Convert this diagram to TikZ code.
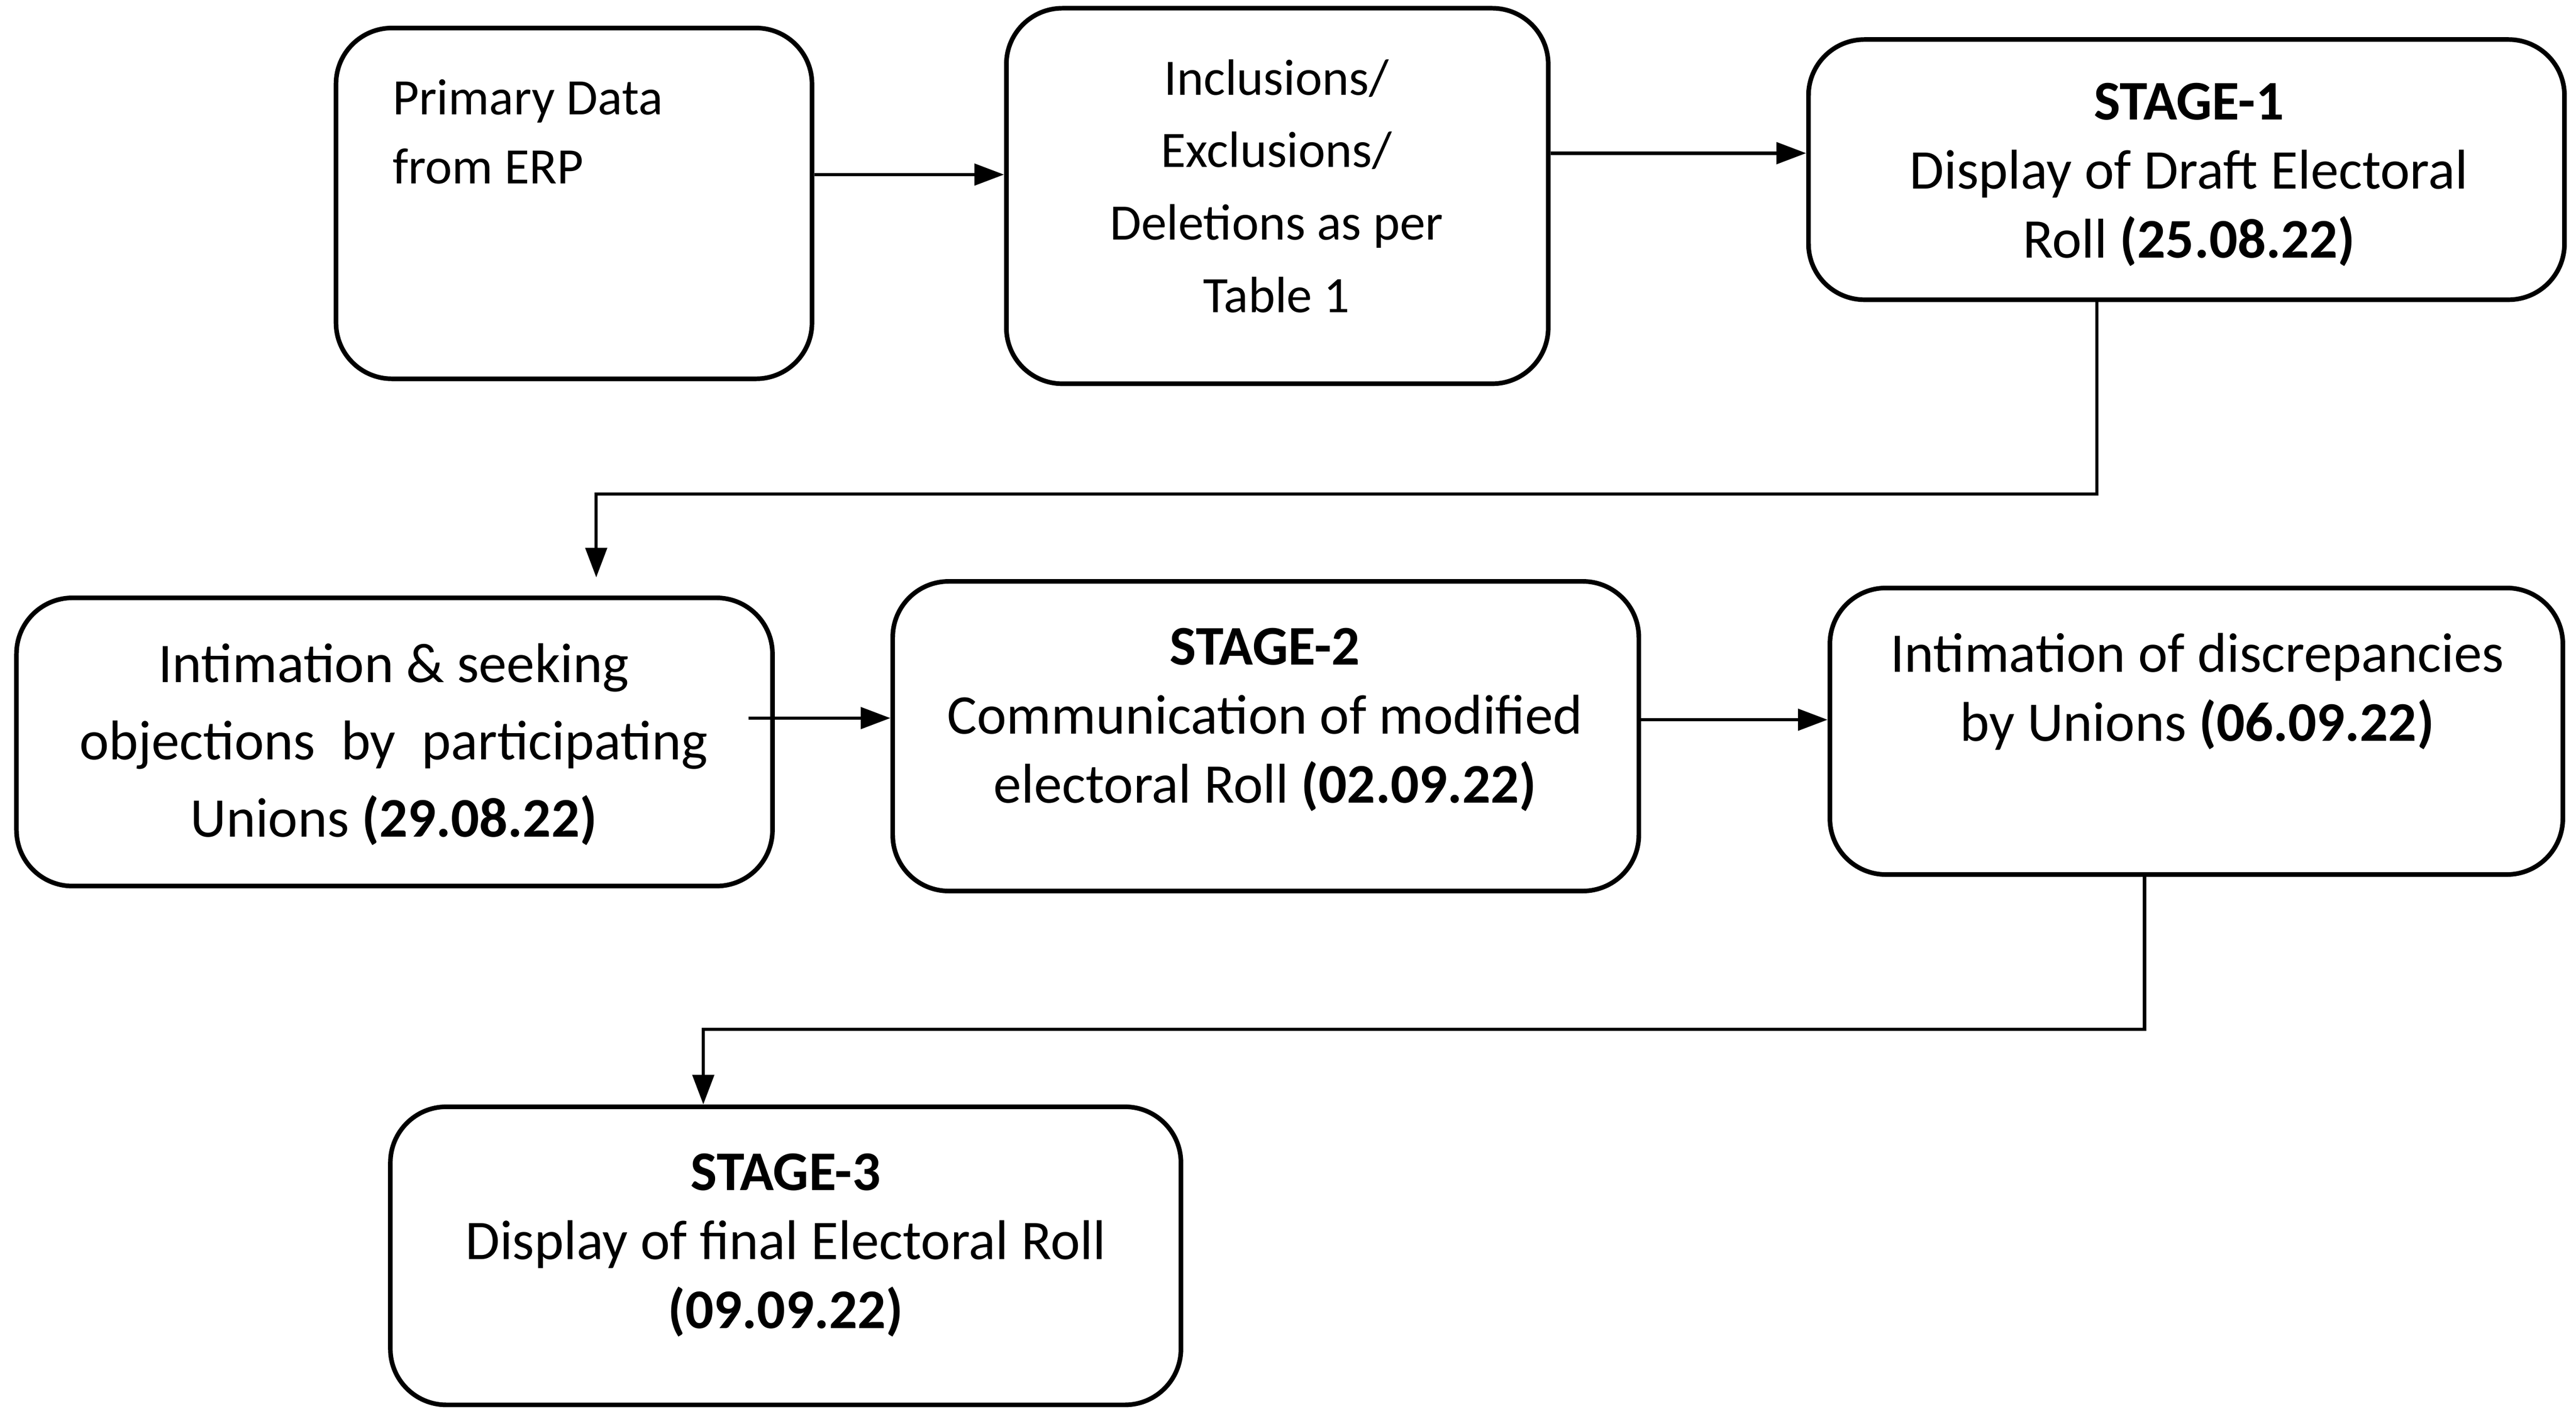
\documentclass[tikz,border=0pt]{standalone}
\usepackage{fontspec}
\setmainfont{Carlito}
\usepackage{tikz}
\usetikzlibrary{arrows.meta,fit}

\tikzset{
  stagebox/.style={draw,line width=1.4pt,rounded corners=17pt,inner sep=0pt},
  lbl/.style={inner sep=0pt,align=center,font=\fontsize{17}{21}\selectfont},
  conn/.style={line width=1pt,-{Triangle[length=9pt,width=6.5pt]}},
}

\begin{document}
\begin{tikzpicture}[x=0.5pt,y=0.5pt,yscale=-1,xscale=1]
\useasboundingbox (0,0) rectangle (1564,855.5);

% Box Nodes
\node [stagebox, fit={(204,17) (493,230)}] (erp) {};
\node [stagebox, fit={(611,5) (940,233)}] (incl) {};
\node [stagebox, fit={(1098,24) (1557,182)}] (stageone) {};
\node [stagebox, fit={(10,363) (469,538)}] (objec) {};
\node [stagebox, fit={(542,353) (995,541)}] (stagetwo) {};
\node [stagebox, fit={(1111,357) (1556,531)}] (discr) {};
\node [stagebox, fit={(237,672) (717,853)}] (stagethree) {};

% Text Node
\node [lbl, anchor=west, align=left, font=\fontsize{15.5}{21}\selectfont] (terp) at (238,80) {Primary Data\\from ERP};
% Text Node
\node [lbl, font=\fontsize{15.5}{22}\selectfont] (tincl) at (775,113) {Inclusions/\\Exclusions/\\Deletions as per\\Table 1};
% Text Node
\node [lbl] (tstageone) at (1329,106) {\textbf{STAGE-1}\\Display of Draft Electoral\\Roll \textbf{(25.08.22)}};
% Text Node
\node [lbl, font=\fontsize{17}{23.5}\selectfont] (tobjec) at (239,452) {Intimation \& seeking\\objections\hspace{4pt} by\hspace{4pt} participating\\Unions \textbf{(29.08.22)}};
% Text Node
\node [lbl] (tstagetwo) at (768,437) {\textbf{STAGE-2}\\Communication of modified\\electoral Roll \textbf{(02.09.22)}};
% Text Node
\node [lbl] (tdiscr) at (1334,420) {Intimation of discrepancies\\by Unions \textbf{(06.09.22)}};
% Text Node
\node [lbl] (tstagethree) at (477,756) {\textbf{STAGE-3}\\Display of final Electoral Roll\\\textbf{(09.09.22)}};

% Connection
\draw [conn] (erp.east |- 0,106) -- (incl.west |- 0,106);
% Connection
\draw [conn] (incl.east |- 0,93) -- (stageone.west |- 0,93);
% Connection
\draw [conn, shorten >=5.5pt] (stageone.south -| 1273,0) -- (1273,300) -| (objec.north -| 362,0);
% Connection
\draw [conn, shorten <=-8pt] (objec.east |- 0,436) -- (stagetwo.west |- 0,436);
% Connection
\draw [conn] (stagetwo.east |- 0,437) -- (discr.west |- 0,437);
% Connection
\draw [conn] (discr.south -| 1302,0) -- (1302,625) -| (stagethree.north -| 427,0);

\end{tikzpicture}
\end{document}
